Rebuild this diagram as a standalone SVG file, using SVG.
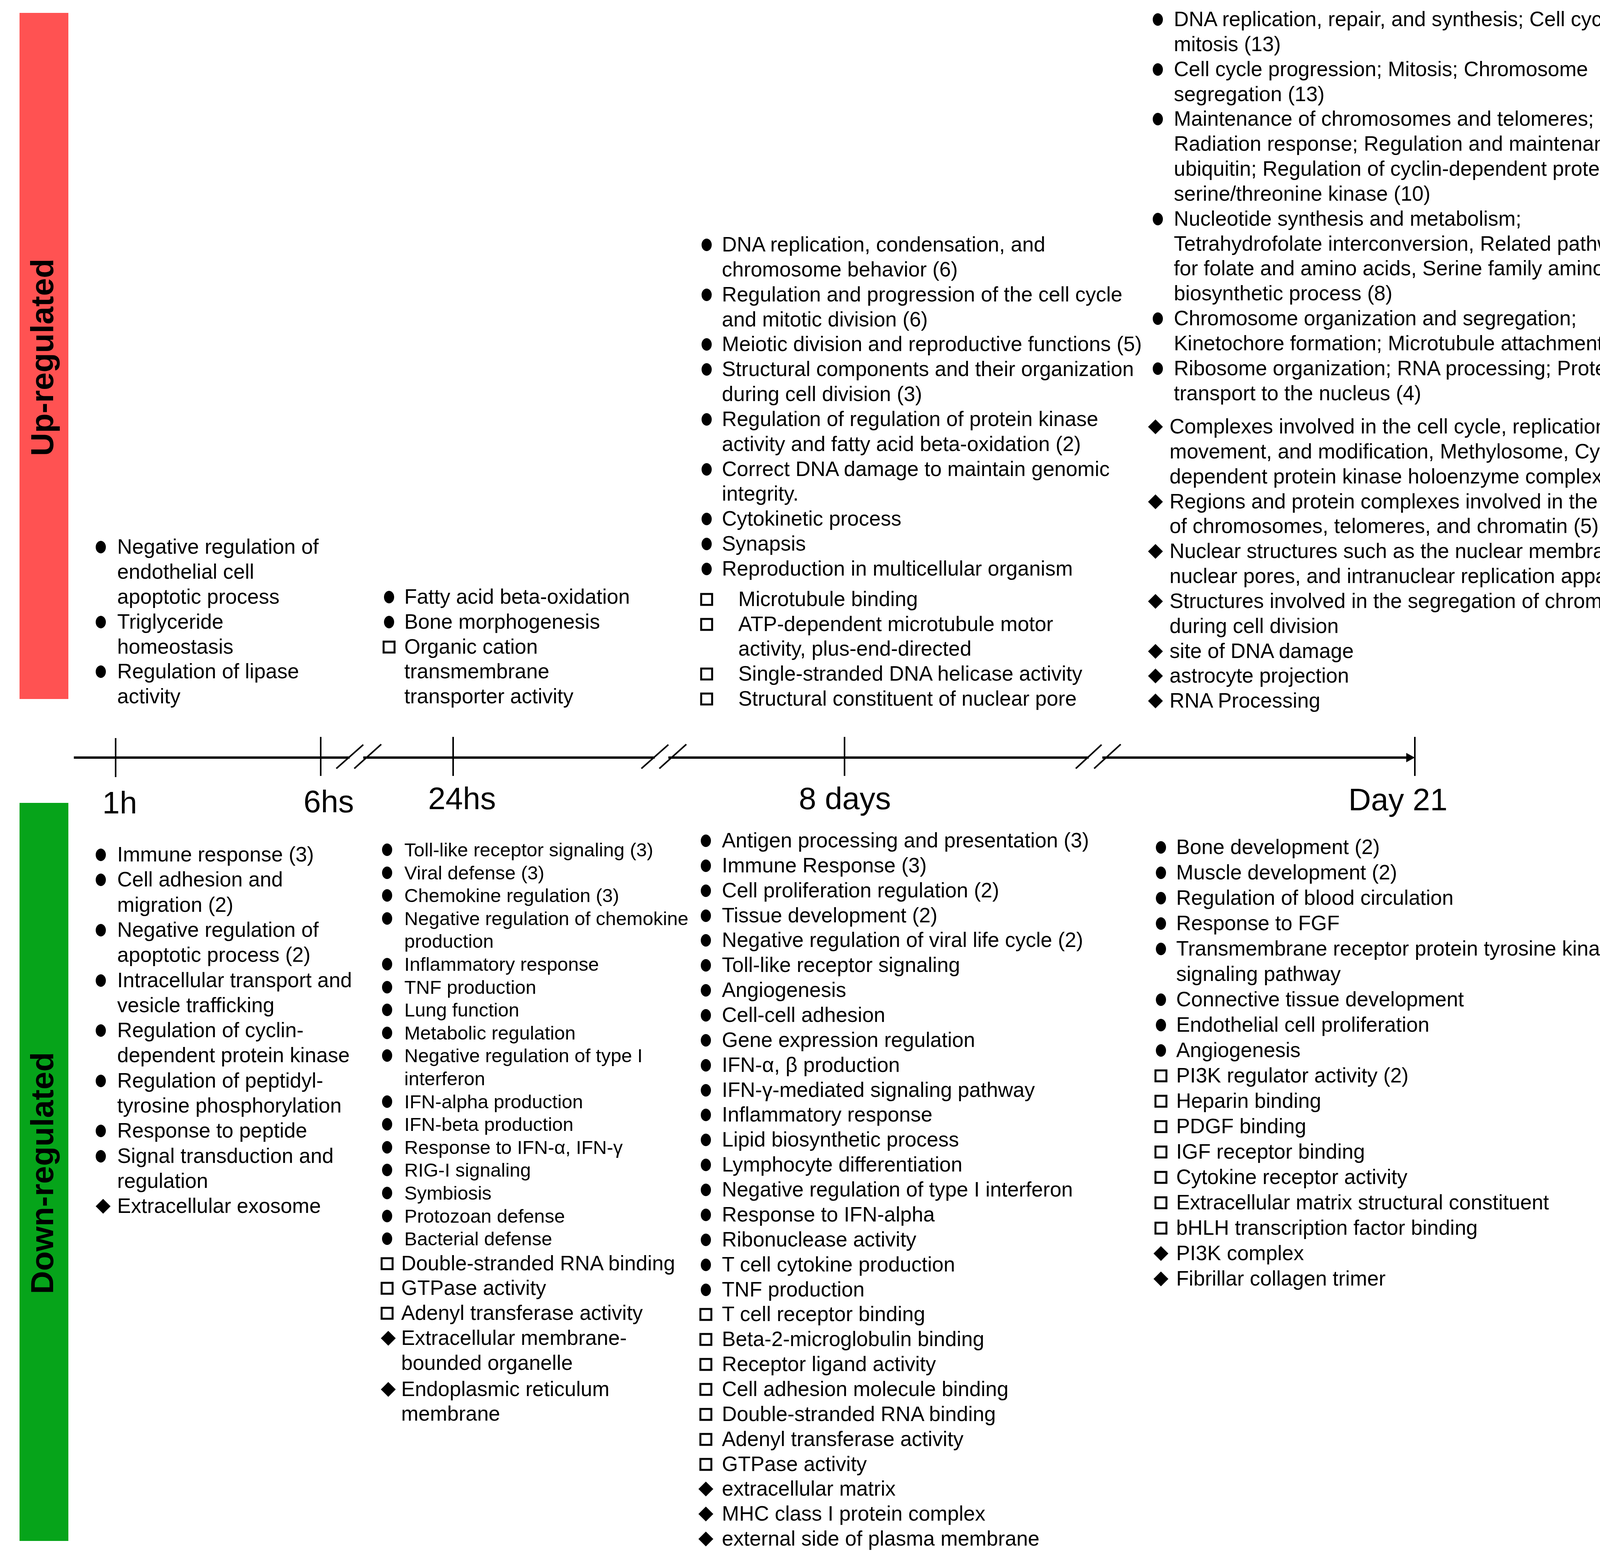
<svg xmlns="http://www.w3.org/2000/svg" xmlns:xlink="http://www.w3.org/1999/xlink" width="4337" height="3982" viewBox="0 0 4337 3982">
<style>
text{font-family:"Liberation Sans",Arial,sans-serif;fill:#000}
.t{font-size:53px}
.s{font-size:49px}
.ax{font-size:80px}
.v{font-size:82px;font-weight:bold}
</style>
<defs>
<ellipse id="dot" cx="0" cy="0" rx="13" ry="16" fill="#000"/>
<rect id="sq" x="-14" y="-14" width="28" height="28" fill="none" stroke="#000" stroke-width="5"/>
<polygon id="dia" points="0,-19 19,0 0,19 -19,0" fill="#000"/>
</defs>
<rect width="4337" height="3982" fill="#fff"/>
<g id="up-bar"><rect x="50" y="33" width="125" height="1757" fill="#ff5252"/><text class="v" transform="translate(136,915) rotate(-90)" text-anchor="middle">Up-regulated</text></g>
<g id="down-bar"><rect x="50" y="2056" width="125" height="1890" fill="#06a41a"/><text class="v" transform="translate(136,3004) rotate(-90)" text-anchor="middle">Down-regulated</text></g>
<g id="connectors">
<line x1="189" y1="1940" x2="3605" y2="1940" stroke="#000" stroke-width="6"/>
<polygon points="3600,1928 3622,1940 3600,1952" fill="#000"/>
<g stroke="#000" stroke-width="4">
<line x1="296" y1="1890" x2="296" y2="1990"/>
<line x1="821" y1="1887" x2="821" y2="1987"/>
<line x1="1160" y1="1887" x2="1160" y2="1987"/>
<line x1="2162" y1="1887" x2="2162" y2="1987"/>
<line x1="3622" y1="1887" x2="3622" y2="1987"/>
</g>
<g stroke="#fff" stroke-width="10"><line x1="895" y1="1940" x2="930" y2="1940"/><line x1="1676" y1="1940" x2="1711" y2="1940"/><line x1="2787" y1="1940" x2="2822" y2="1940"/></g>
<g stroke="#000" stroke-width="4">
<line x1="861" y1="1968" x2="930" y2="1907"/><line x1="907" y1="1968" x2="976" y2="1906"/>
<line x1="1642" y1="1968" x2="1711" y2="1907"/><line x1="1688" y1="1968" x2="1757" y2="1906"/>
<line x1="2754" y1="1968" x2="2820" y2="1907"/><line x1="2801" y1="1968" x2="2869" y2="1906"/>
</g>
</g>
<g id="axis-labels">
<text class="ax" x="262" y="2083">1h</text>
<text class="ax" x="777" y="2080">6hs</text>
<text class="ax" x="1096" y="2072">24hs</text>
<text class="ax" x="2045" y="2072">8 days</text>
<text class="ax" x="3452" y="2075">Day 21</text>
</g>
<g id="up-1h" class="t">
<use href="#dot" x="258" y="1401"/><use href="#dot" x="258" y="1593"/><use href="#dot" x="258" y="1720"/>
<text x="300" y="1418">Negative regulation of</text>
<text x="300" y="1482">endothelial cell</text>
<text x="300" y="1546">apoptotic process</text>
<text x="300" y="1610">Triglyceride</text>
<text x="300" y="1674">homeostasis</text>
<text x="300" y="1737">Regulation of lipase</text>
<text x="300" y="1801">activity</text>
</g>
<g id="up-24hs" class="t">
<use href="#dot" x="996" y="1529"/><use href="#dot" x="996" y="1593"/><use href="#sq" x="996" y="1657"/>
<text x="1035" y="1546">Fatty acid beta-oxidation</text>
<text x="1035" y="1610">Bone morphogenesis</text>
<text x="1035" y="1674">Organic cation</text>
<text x="1035" y="1737">transmembrane</text>
<text x="1035" y="1801">transporter activity</text>
</g>
<g id="up-8days" class="t">
<use href="#dot" x="1809" y="627"/><use href="#dot" x="1809" y="755"/><use href="#dot" x="1809" y="882"/><use href="#dot" x="1809" y="946"/><use href="#dot" x="1809" y="1074"/><use href="#dot" x="1809" y="1202"/><use href="#dot" x="1809" y="1329"/><use href="#dot" x="1809" y="1393"/><use href="#dot" x="1809" y="1457"/>
<use href="#sq" x="1809" y="1535"/><use href="#sq" x="1809" y="1599"/><use href="#sq" x="1809" y="1726"/><use href="#sq" x="1809" y="1790"/>
<text x="1848" y="644">DNA replication, condensation, and</text>
<text x="1848" y="708">chromosome behavior (6)</text>
<text x="1848" y="772">Regulation and progression of the cell cycle</text>
<text x="1848" y="836">and mitotic division (6)</text>
<text x="1848" y="899">Meiotic division and reproductive functions (5)</text>
<text x="1848" y="963">Structural components and their organization</text>
<text x="1848" y="1027">during cell division (3)</text>
<text x="1848" y="1091">Regulation of regulation of protein kinase</text>
<text x="1848" y="1155">activity and fatty acid beta-oxidation (2)</text>
<text x="1848" y="1219">Correct DNA damage to maintain genomic</text>
<text x="1848" y="1282">integrity.</text>
<text x="1848" y="1346">Cytokinetic process</text>
<text x="1848" y="1410">Synapsis</text>
<text x="1848" y="1474">Reproduction in multicellular organism</text>
<text x="1890" y="1552">Microtubule binding</text>
<text x="1890" y="1616">ATP-dependent microtubule motor</text>
<text x="1890" y="1679">activity, plus-end-directed</text>
<text x="1890" y="1743">Single-stranded DNA helicase activity</text>
<text x="1890" y="1807">Structural constituent of nuclear pore</text>
</g>
<g id="up-day21" class="t">
<use href="#dot" x="2964" y="50"/><use href="#dot" x="2964" y="178"/><use href="#dot" x="2964" y="305"/><use href="#dot" x="2964" y="561"/><use href="#dot" x="2964" y="816"/><use href="#dot" x="2964" y="944"/>
<use href="#dia" x="2958" y="1093"/><use href="#dia" x="2958" y="1285"/><use href="#dia" x="2958" y="1412"/><use href="#dia" x="2958" y="1540"/><use href="#dia" x="2958" y="1668"/><use href="#dia" x="2958" y="1731"/><use href="#dia" x="2958" y="1795"/>
<text x="3005" y="67">DNA replication, repair, and synthesis; Cell cycle and</text>
<text x="3005" y="131">mitosis (13)</text>
<text x="3005" y="195">Cell cycle progression; Mitosis; Chromosome</text>
<text x="3005" y="259">segregation (13)</text>
<text x="3005" y="322">Maintenance of chromosomes and telomeres;</text>
<text x="3005" y="386">Radiation response; Regulation and maintenance of</text>
<text x="3005" y="450">ubiquitin; Regulation of cyclin-dependent protein</text>
<text x="3005" y="514">serine/threonine kinase (10)</text>
<text x="3005" y="578">Nucleotide synthesis and metabolism;</text>
<text x="3005" y="642">Tetrahydrofolate interconversion, Related pathways</text>
<text x="3005" y="705">for folate and amino acids, Serine family amino acid</text>
<text x="3005" y="769">biosynthetic process (8)</text>
<text x="3005" y="833">Chromosome organization and segregation;</text>
<text x="3005" y="897">Kinetochore formation; Microtubule attachment (7)</text>
<text x="3005" y="961">Ribosome organization; RNA processing; Protein</text>
<text x="3005" y="1025">transport to the nucleus (4)</text>
<text x="2994" y="1110">Complexes involved in the cell cycle, replication,</text>
<text x="2994" y="1174">movement, and modification, Methylosome, Cyclin-</text>
<text x="2994" y="1238">dependent protein kinase holoenzyme complex (6)</text>
<text x="2994" y="1302">Regions and protein complexes involved in the structure</text>
<text x="2994" y="1365">of chromosomes, telomeres, and chromatin (5)</text>
<text x="2994" y="1429">Nuclear structures such as the nuclear membrane,</text>
<text x="2994" y="1493">nuclear pores, and intranuclear replication apparatus (4)</text>
<text x="2994" y="1557">Structures involved in the segregation of chromosomes</text>
<text x="2994" y="1621">during cell division</text>
<text x="2994" y="1685">site of DNA damage</text>
<text x="2994" y="1748">astrocyte projection</text>
<text x="2994" y="1812">RNA Processing</text>
</g>
<g id="down-1h" class="t">
<use href="#dot" x="258" y="2189"/><use href="#dot" x="258" y="2253"/><use href="#dot" x="258" y="2382"/><use href="#dot" x="258" y="2511"/><use href="#dot" x="258" y="2639"/><use href="#dot" x="258" y="2768"/><use href="#dot" x="258" y="2896"/><use href="#dot" x="258" y="2961"/>
<use href="#dia" x="264" y="3089"/>
<text x="300" y="2206">Immune response (3)</text>
<text x="300" y="2270">Cell adhesion and</text>
<text x="300" y="2335">migration (2)</text>
<text x="300" y="2399">Negative regulation of</text>
<text x="300" y="2463">apoptotic process (2)</text>
<text x="300" y="2528">Intracellular transport and</text>
<text x="300" y="2592">vesicle trafficking</text>
<text x="300" y="2656">Regulation of cyclin-</text>
<text x="300" y="2720">dependent protein kinase</text>
<text x="300" y="2785">Regulation of peptidyl-</text>
<text x="300" y="2849">tyrosine phosphorylation</text>
<text x="300" y="2913">Response to peptide</text>
<text x="300" y="2978">Signal transduction and</text>
<text x="300" y="3042">regulation</text>
<text x="300" y="3106">Extracellular exosome</text>
</g>
<g id="down-24hs">
<g class="s">
<use href="#dot" x="991" y="2176"/><use href="#dot" x="991" y="2235"/><use href="#dot" x="991" y="2293"/><use href="#dot" x="991" y="2352"/><use href="#dot" x="991" y="2469"/><use href="#dot" x="991" y="2528"/><use href="#dot" x="991" y="2586"/><use href="#dot" x="991" y="2645"/><use href="#dot" x="991" y="2703"/><use href="#dot" x="991" y="2821"/><use href="#dot" x="991" y="2879"/><use href="#dot" x="991" y="2938"/><use href="#dot" x="991" y="2996"/><use href="#dot" x="991" y="3055"/><use href="#dot" x="991" y="3114"/><use href="#dot" x="991" y="3172"/>
<text x="1035" y="2193">Toll-like  receptor signaling  (3)</text>
<text x="1035" y="2252">Viral defense (3)</text>
<text x="1035" y="2310">Chemokine regulation  (3)</text>
<text x="1035" y="2369">Negative regulation of chemokine</text>
<text x="1035" y="2427">production</text>
<text x="1035" y="2486">Inflammatory  response</text>
<text x="1035" y="2545">TNF production</text>
<text x="1035" y="2603">Lung function</text>
<text x="1035" y="2662">Metabolic regulation</text>
<text x="1035" y="2720">Negative regulation  of type I</text>
<text x="1035" y="2779">interferon</text>
<text x="1035" y="2838">IFN-alpha production</text>
<text x="1035" y="2896">IFN-beta production</text>
<text x="1035" y="2955">Response to IFN-α, IFN-γ</text>
<text x="1035" y="3013">RIG-I signaling</text>
<text x="1035" y="3072">Symbiosis</text>
<text x="1035" y="3131">Protozoan defense</text>
<text x="1035" y="3189">Bacterial defense</text>
</g>
<g class="t">
<use href="#sq" x="991" y="3236"/><use href="#sq" x="991" y="3299"/><use href="#sq" x="991" y="3363"/><use href="#dia" x="994" y="3427"/><use href="#dia" x="994" y="3558"/>
<text x="1027" y="3253">Double-stranded RNA binding</text>
<text x="1027" y="3316">GTPase activity</text>
<text x="1027" y="3380">Adenyl transferase activity</text>
<text x="1027" y="3444">Extracellular membrane-</text>
<text x="1027" y="3508">bounded organelle</text>
<text x="1027" y="3575">Endoplasmic reticulum</text>
<text x="1027" y="3638">membrane</text>
</g>
</g>
<g id="down-8days" class="t">
<use href="#dot" x="1807" y="2153"/><use href="#dot" x="1807" y="2217"/><use href="#dot" x="1807" y="2281"/><use href="#dot" x="1807" y="2345"/><use href="#dot" x="1807" y="2408"/><use href="#dot" x="1807" y="2472"/><use href="#dot" x="1807" y="2536"/><use href="#dot" x="1807" y="2600"/><use href="#dot" x="1807" y="2664"/><use href="#dot" x="1807" y="2728"/><use href="#dot" x="1807" y="2792"/><use href="#dot" x="1807" y="2855"/><use href="#dot" x="1807" y="2919"/><use href="#dot" x="1807" y="2983"/><use href="#dot" x="1807" y="3047"/><use href="#dot" x="1807" y="3111"/><use href="#dot" x="1807" y="3175"/><use href="#dot" x="1807" y="3239"/><use href="#dot" x="1807" y="3303"/>
<use href="#sq" x="1807" y="3366"/><use href="#sq" x="1807" y="3430"/><use href="#sq" x="1807" y="3494"/><use href="#sq" x="1807" y="3558"/><use href="#sq" x="1807" y="3622"/><use href="#sq" x="1807" y="3686"/><use href="#sq" x="1807" y="3750"/>
<use href="#dia" x="1807" y="3813"/><use href="#dia" x="1807" y="3877"/><use href="#dia" x="1807" y="3941"/>
<text x="1848" y="2170">Antigen processing and presentation (3)</text>
<text x="1848" y="2234">Immune Response (3)</text>
<text x="1848" y="2298">Cell proliferation regulation (2)</text>
<text x="1848" y="2362">Tissue development (2)</text>
<text x="1848" y="2425">Negative regulation of viral life cycle (2)</text>
<text x="1848" y="2489">Toll-like receptor signaling</text>
<text x="1848" y="2553">Angiogenesis</text>
<text x="1848" y="2617">Cell-cell adhesion</text>
<text x="1848" y="2681">Gene expression regulation</text>
<text x="1848" y="2745">IFN-α,  β production</text>
<text x="1848" y="2809">IFN-γ-mediated signaling pathway</text>
<text x="1848" y="2872">Inflammatory response</text>
<text x="1848" y="2936">Lipid biosynthetic process</text>
<text x="1848" y="3000">Lymphocyte differentiation</text>
<text x="1848" y="3064">Negative regulation of type I interferon</text>
<text x="1848" y="3128">Response to IFN-alpha</text>
<text x="1848" y="3192">Ribonuclease activity</text>
<text x="1848" y="3256">T cell cytokine production</text>
<text x="1848" y="3320">TNF production</text>
<text x="1848" y="3383">T cell receptor binding</text>
<text x="1848" y="3447">Beta-2-microglobulin binding</text>
<text x="1848" y="3511">Receptor ligand activity</text>
<text x="1848" y="3575">Cell adhesion molecule binding</text>
<text x="1848" y="3639">Double-stranded RNA binding</text>
<text x="1848" y="3703">Adenyl transferase activity</text>
<text x="1848" y="3767">GTPase activity</text>
<text x="1848" y="3830">extracellular matrix</text>
<text x="1848" y="3894">MHC class I protein complex</text>
<text x="1848" y="3958">external side of plasma membrane</text>
</g>
<g id="down-day21" class="t">
<use href="#dot" x="2972" y="2170"/><use href="#dot" x="2972" y="2235"/><use href="#dot" x="2972" y="2300"/><use href="#dot" x="2972" y="2365"/><use href="#dot" x="2972" y="2430"/><use href="#dot" x="2972" y="2560"/><use href="#dot" x="2972" y="2625"/><use href="#dot" x="2972" y="2690"/>
<use href="#sq" x="2972" y="2755"/><use href="#sq" x="2972" y="2820"/><use href="#sq" x="2972" y="2885"/><use href="#sq" x="2972" y="2950"/><use href="#sq" x="2972" y="3015"/><use href="#sq" x="2972" y="3080"/><use href="#sq" x="2972" y="3145"/>
<use href="#dia" x="2972" y="3210"/><use href="#dia" x="2972" y="3275"/>
<text x="3011" y="2187">Bone development (2)</text>
<text x="3011" y="2252">Muscle development (2)</text>
<text x="3011" y="2317">Regulation of blood circulation</text>
<text x="3011" y="2382">Response to FGF</text>
<text x="3011" y="2447">Transmembrane receptor protein tyrosine kinase</text>
<text x="3011" y="2512">signaling pathway</text>
<text x="3011" y="2577">Connective tissue development</text>
<text x="3011" y="2642">Endothelial cell proliferation</text>
<text x="3011" y="2707">Angiogenesis</text>
<text x="3011" y="2772">PI3K regulator activity (2)</text>
<text x="3011" y="2837">Heparin binding</text>
<text x="3011" y="2902">PDGF binding</text>
<text x="3011" y="2967">IGF receptor binding</text>
<text x="3011" y="3032">Cytokine receptor activity</text>
<text x="3011" y="3097">Extracellular matrix structural constituent</text>
<text x="3011" y="3162">bHLH transcription factor binding</text>
<text x="3011" y="3227">PI3K complex</text>
<text x="3011" y="3292">Fibrillar collagen trimer</text>
</g>
</svg>
